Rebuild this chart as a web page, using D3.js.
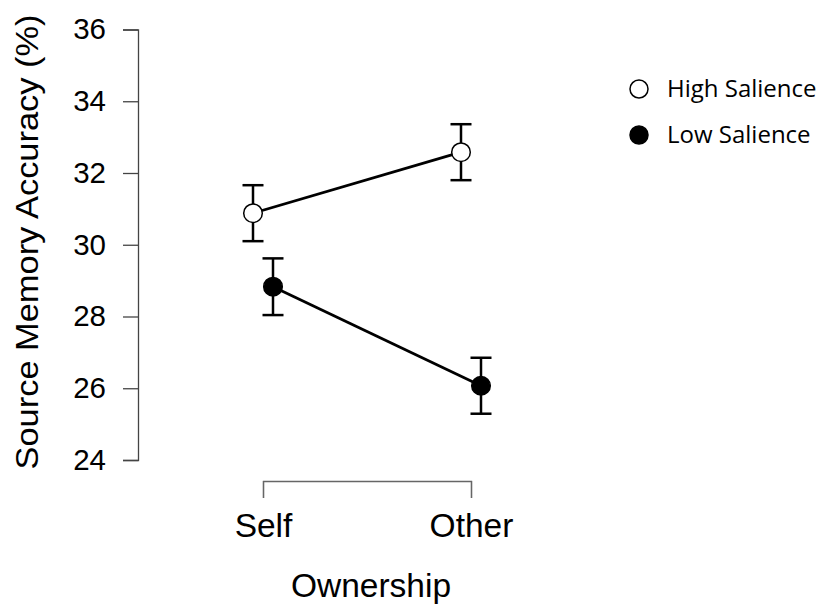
<!DOCTYPE html>
<html>
<head>
<meta charset="utf-8">
<script src="https://cdn.jsdelivr.net/npm/d3@7"></script>
<style>
  body { margin: 0; background: #fff; }
  svg text { font-family: "Liberation Sans", Arial, Helvetica, sans-serif; }
  .legend text { font-family: "Open Sans", "Noto Sans", sans-serif; }
</style>
</head>
<body>
<div id="frame"></div>
<script>
'use strict'

// data
var ownership = ["Self", "Other"]
var groups = ["High Salience", "Low Salience"]
var highMean = [30.88, 32.58]
var highErr = [0.78, 0.78]
var lowMean = [28.83, 26.07]
var lowErr = [0.79, 0.78]
var yTicks = [24, 26, 28, 30, 32, 34, 36]

var W = 825, H = 605

var svg = d3.select("#frame")
  .append("svg")
  .attr("width", W)
  .attr("height", H)

var y = d3.scaleLinear().domain([24, 36]).range([460, 29.5])
var x = d3.scalePoint().domain(ownership).range([263, 471]).padding(0)
var dodge = { "High Salience": -10, "Low Salience": 10 }

// y axis
var yAxis = svg.append("g")
  .attr("class", "yaxis")
  .attr("transform", "translate(138,0)")
  .call(d3.axisLeft(y).tickValues(yTicks).tickSize(15).tickSizeOuter(15).tickPadding(17))
yAxis.select(".domain").attr("stroke", "#444").attr("stroke-width", 1.3)
yAxis.selectAll(".tick line").attr("stroke", "#444").attr("stroke-width", 1.3)
yAxis.selectAll(".tick text")
  .attr("font-size", 29.5)
  .attr("fill", "#000")
  .attr("font-family", "Liberation Sans, Arial, sans-serif")

svg.append("text")
  .attr("transform", "translate(38,242) rotate(-90)")
  .attr("text-anchor", "middle")
  .attr("font-size", 32)
  .attr("textLength", 455)
  .attr("lengthAdjust", "spacingAndGlyphs")
  .text("Source Memory Accuracy (%)")

// x axis, bracket style
var xAxis = svg.append("g")
  .attr("class", "xaxis")
  .attr("transform", "translate(0,481)")
  .call(d3.axisBottom(x).tickSize(17).tickSizeOuter(17).tickPadding(0))
xAxis.select(".domain").attr("stroke", "#666").attr("stroke-width", 1.3)
xAxis.selectAll(".tick line").attr("stroke", "#666").attr("stroke-width", 1.3)
xAxis.selectAll(".tick text")
  .attr("font-size", 33.5)
  .attr("fill", "#000")
  .attr("font-family", "Liberation Sans, Arial, sans-serif")
  .attr("y", 56)
  .attr("dy", 0)

svg.append("text")
  .attr("x", 371)
  .attr("y", 597)
  .attr("text-anchor", "middle")
  .attr("font-size", 33.5)
  .text("Ownership")

// series
var series = [
  { name: "High Salience", mean: highMean, err: highErr, fill: "#fff" },
  { name: "Low Salience", mean: lowMean, err: lowErr, fill: "#000" }
]

var line = d3.line()
  .x(d => x(d.cat) + dodge[d.name])
  .y(d => y(d.v))

series.forEach(function(s) {
  var pts = ownership.map((c, i) => ({ cat: c, v: s.mean[i], e: s.err[i], name: s.name }))
  var g = svg.append("g").attr("class", "series")

  g.append("path")
    .datum(pts)
    .attr("d", line)
    .attr("fill", "none")
    .attr("stroke", "#000")
    .attr("stroke-width", 2.8)

  var eb = g.selectAll("g.err").data(pts).enter().append("g").attr("class", "err")
  eb.append("line")
    .attr("x1", d => x(d.cat) + dodge[d.name])
    .attr("x2", d => x(d.cat) + dodge[d.name])
    .attr("y1", d => y(d.v - d.e))
    .attr("y2", d => y(d.v + d.e))
  eb.append("line")
    .attr("x1", d => x(d.cat) + dodge[d.name] - 10.5)
    .attr("x2", d => x(d.cat) + dodge[d.name] + 10.5)
    .attr("y1", d => y(d.v + d.e))
    .attr("y2", d => y(d.v + d.e))
  eb.append("line")
    .attr("x1", d => x(d.cat) + dodge[d.name] - 10.5)
    .attr("x2", d => x(d.cat) + dodge[d.name] + 10.5)
    .attr("y1", d => y(d.v - d.e))
    .attr("y2", d => y(d.v - d.e))
  eb.selectAll("line").attr("stroke", "#000").attr("stroke-width", 2.5)

  g.selectAll("circle").data(pts).enter().append("circle")
    .attr("cx", d => x(d.cat) + dodge[d.name])
    .attr("cy", d => y(d.v))
    .attr("r", 9.3)
    .attr("fill", s.fill)
    .attr("stroke", "#000")
    .attr("stroke-width", 1.5)
})

// legend
var legend = svg.append("g").attr("class", "legend")
var li = legend.selectAll("g").data(series).enter().append("g")
  .attr("transform", (d, i) => "translate(639," + (89 + i * 46) + ")")
li.append("circle")
  .attr("r", 9)
  .attr("fill", d => d.fill)
  .attr("stroke", "#000")
  .attr("stroke-width", 1.5)
li.append("text")
  .attr("x", 28)
  .attr("y", 8)
  .attr("font-size", 24)
  .text(d => d.name)
</script>
</body>
</html>
